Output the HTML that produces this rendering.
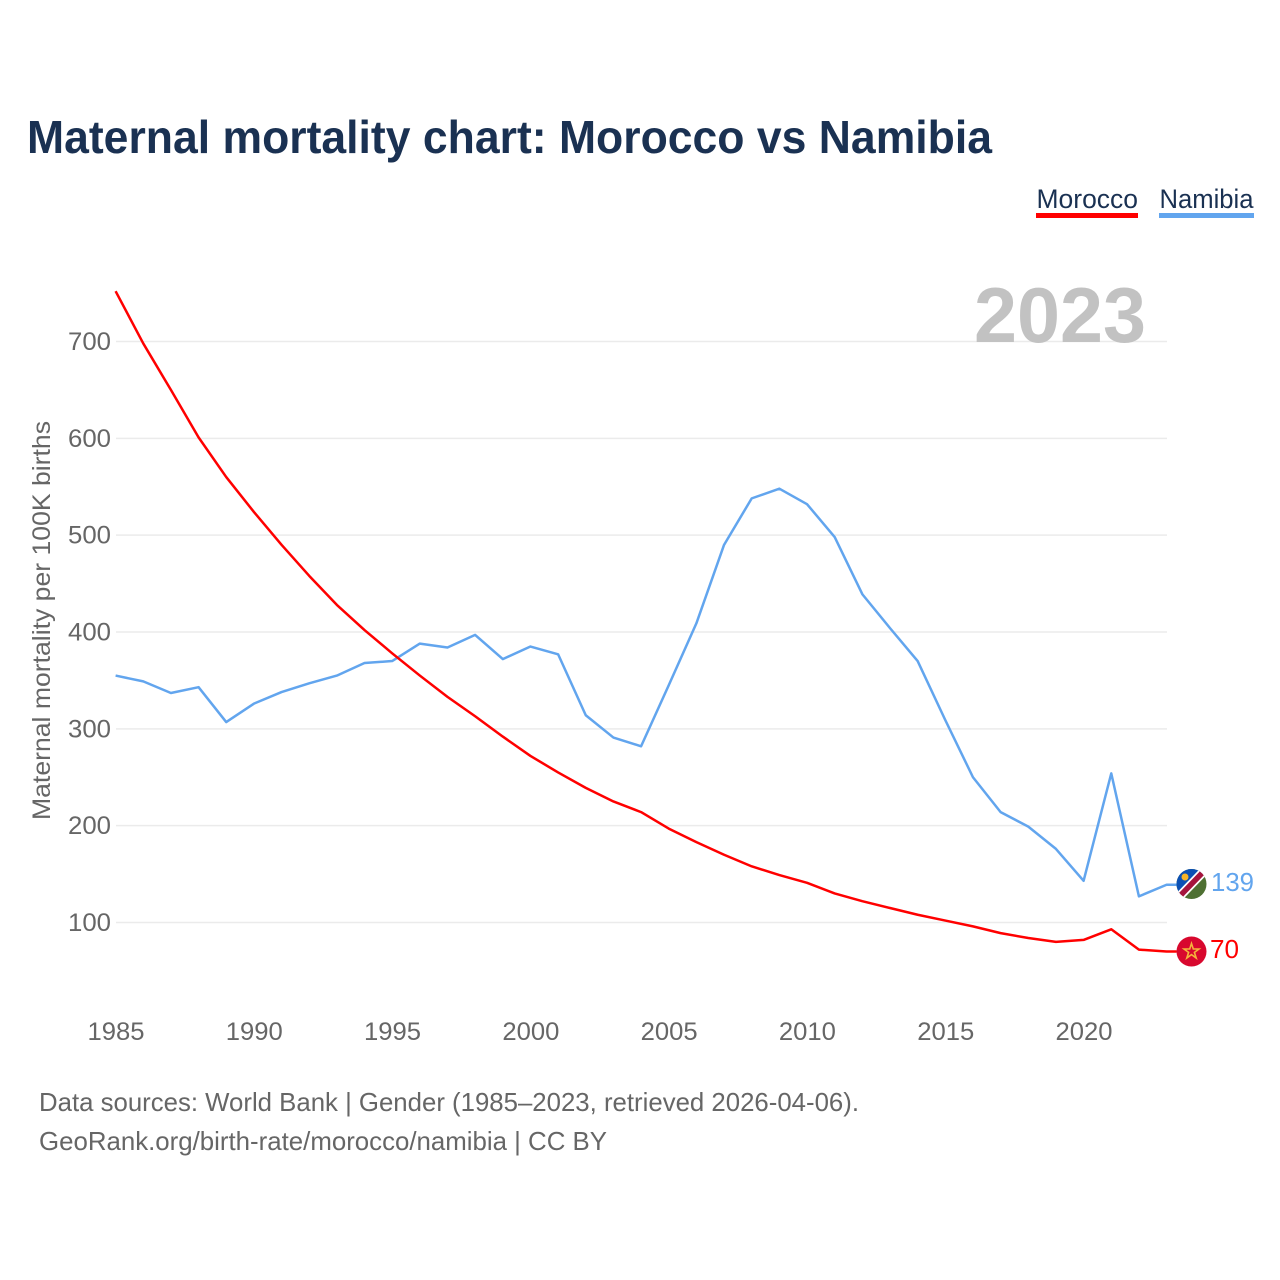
<!DOCTYPE html>
<html lang="en">
<head>
<meta charset="utf-8">
<title>Maternal mortality chart: Morocco vs Namibia</title>
<style>
html,body{margin:0;padding:0;background:#fff;width:1280px;height:1280px;overflow:hidden}
svg{display:block;font-family:"Liberation Sans",sans-serif}
</style>
</head>
<body>
<svg id="chart" width="1280" height="1280" viewBox="0 0 1280 1280" xmlns="http://www.w3.org/2000/svg">
  <defs>
    <clipPath id="na-clip"><circle cx="1191.5" cy="884" r="15"/></clipPath>
    <clipPath id="ma-clip"><circle cx="1191.5" cy="951.5" r="15"/></clipPath>
  </defs>
  <text x="27" y="153" font-size="46" font-weight="700" fill="#1a3152" textLength="965" lengthAdjust="spacingAndGlyphs">Maternal mortality chart: Morocco vs Namibia</text>

  <text x="1036.5" y="208" font-size="27" fill="#1a3152" textLength="101.500" lengthAdjust="spacingAndGlyphs">Morocco</text>
  <rect x="1036" y="213" width="102" height="5" fill="#ff0000"/>
  <text x="1159.500" y="208" font-size="27" fill="#1a3152" textLength="94" lengthAdjust="spacingAndGlyphs">Namibia</text>
  <rect x="1159" y="213" width="95" height="5" fill="#62a5ee"/>

  <g id="grid"></g>
  <text x="974" y="342" font-size="78" font-weight="700" fill="#c2c2c2" textLength="172" lengthAdjust="spacingAndGlyphs">2023</text>
  <g id="y-ticks"></g>
  <g id="x-ticks"></g>
  <text transform="translate(50,820) rotate(-90)" font-size="25" fill="#666666" textLength="399" lengthAdjust="spacingAndGlyphs">Maternal mortality per 100K births</text>

  <g id="series"></g>

  <g clip-path="url(#na-clip)">
    <rect x="1176" y="869" width="31" height="31" fill="#4e7032"/>
    <polygon points="1176,869 1207,869 1176,900" fill="#0a50b4"/>
    <line x1="1177" y1="899" x2="1206" y2="869" stroke="#ffffff" stroke-width="9"/>
    <line x1="1177" y1="899" x2="1206" y2="869" stroke="#a5143c" stroke-width="5.500"/>
    <circle cx="1185" cy="877" r="3.500" fill="#f5b428"/>
  </g>
  <g clip-path="url(#ma-clip)">
    <rect x="1176" y="936" width="31" height="31" fill="#d8082e"/>
    <polygon points="1191.500,943.500 1193.300,949 1199,949 1194.400,952.400 1196.200,958 1191.500,954.600 1186.800,958 1188.600,952.400 1184,949 1189.700,949" fill="none" stroke="#f5b43c" stroke-width="1.600"/>
  </g>
  <text x="1211" y="891" font-size="26" fill="#62a5ee" textLength="43" lengthAdjust="spacingAndGlyphs">139</text>
  <text x="1210" y="958" font-size="26" fill="#ff0000" textLength="29" lengthAdjust="spacingAndGlyphs">70</text>

  <text x="39" y="1111" font-size="26" fill="#666666" textLength="820" lengthAdjust="spacingAndGlyphs">Data sources: World Bank | Gender (1985–2023, retrieved 2026-04-06).</text>
  <text x="39" y="1150" font-size="26" fill="#666666" textLength="568" lengthAdjust="spacingAndGlyphs">GeoRank.org/birth-rate/morocco/namibia | CC BY</text>
</svg>
<script>
const years = [1985,1986,1987,1988,1989,1990,1991,1992,1993,1994,1995,1996,1997,1998,1999,2000,2001,2002,2003,2004,2005,2006,2007,2008,2009,2010,2011,2012,2013,2014,2015,2016,2017,2018,2019,2020,2021,2022,2023];
const moroccoValues = [752,698,650,601,560,524,490,458,428,402,378,355,333,313,292,272,255,239,225,214,197,183,170,158,149,141,130,122,115,108,102,96,89,84,80,82,93,72,70];
const namibiaValues = [355,349,337,343,307,326,338,347,355,368,370,388,384,397,372,385,377,314,291,282,345,409,490,538,548,532,498,439,404,370,309,250,214,199,176,143,254,127,139];
const yTickValues = [100,200,300,400,500,600,700];
const xTickValues = [1985,1990,1995,2000,2005,2010,2015,2020];

const SVG_NS = 'http://www.w3.org/2000/svg';
function xScale(year){ return 115.6 + (year - 1985) * (968 / 35); }
function yScale(value){ return 922.5 - (value - 100) * (581 / 600); }

const gridGroup = document.getElementById('grid');
const yTickGroup = document.getElementById('y-ticks');
const xTickGroup = document.getElementById('x-ticks');
const seriesGroup = document.getElementById('series');

yTickValues.forEach(function(v){
  const line = document.createElementNS(SVG_NS, 'line');
  
  
  line.setAttribute('x1', 116);
  line.setAttribute('x2', 1167);
  line.setAttribute('y1', yScale(v));
  line.setAttribute('y2', yScale(v));
  line.setAttribute('stroke', '#ebebeb');
  line.setAttribute('stroke-width', '1.5');
  gridGroup.appendChild(line);

  const label = document.createElementNS(SVG_NS, 'text');
  
  
  label.setAttribute('x', 111);
  label.setAttribute('y', yScale(v) + 8.5);
  label.setAttribute('text-anchor', 'end');
  label.setAttribute('font-size', '25');
  label.setAttribute('fill', '#666666');
  label.setAttribute('textLength', '43');
  label.setAttribute('lengthAdjust', 'spacingAndGlyphs');
  label.textContent = v;
  yTickGroup.appendChild(label);
});

xTickValues.forEach(function(y){
  const label = document.createElementNS(SVG_NS, 'text');
  
  
  label.setAttribute('x', xScale(y) + 0.4);
  label.setAttribute('y', 1040);
  label.setAttribute('text-anchor', 'middle');
  label.setAttribute('font-size', '25');
  label.setAttribute('fill', '#666666');
  label.setAttribute('textLength', '57');
  label.setAttribute('lengthAdjust', 'spacingAndGlyphs');
  label.textContent = y;
  xTickGroup.appendChild(label);
});

function drawSeries(values, color){
  const pts = values.map(function(v, i){ return xScale(years[i]).toFixed(2) + ',' + yScale(v).toFixed(2); });
  const last = values[values.length - 1];
  pts.push((xScale(years[years.length - 1]) + 10).toFixed(2) + ',' + yScale(last).toFixed(2));
  const path = document.createElementNS(SVG_NS, 'polyline');
  path.setAttribute('points', pts.join(' '));
  path.setAttribute('fill', 'none');
  path.setAttribute('stroke', color);
  path.setAttribute('stroke-width', '2.5');
  path.setAttribute('stroke-linejoin', 'round');
  return path;
}

const namibiaLine = drawSeries(namibiaValues, '#62a5ee');


seriesGroup.appendChild(namibiaLine);

const moroccoLine = drawSeries(moroccoValues, '#ff0000');


seriesGroup.appendChild(moroccoLine);
</script>
</body>
</html>
